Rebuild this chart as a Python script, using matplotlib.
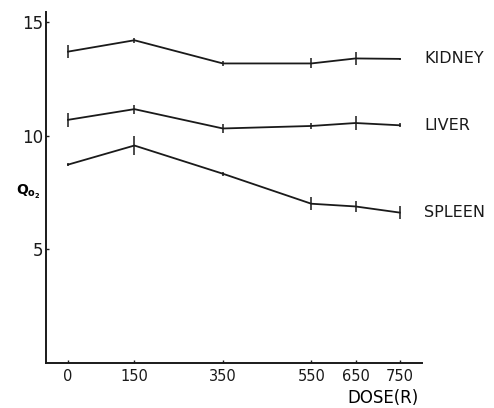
import matplotlib.pyplot as plt
import numpy as np

# Dose (R) and Qo2 per tissue
dose = [0, 150, 350, 550, 650, 750]

kidney = [13.7, 14.2, 13.18, 13.18, 13.4, 13.38]
liver = [10.7, 11.17, 10.32, 10.43, 10.56, 10.46]
spleen = [8.73, 9.57, 8.33, 7.01, 6.89, 6.62]

kidney_err = [0.28, 0.12, 0.12, 0.22, 0.3, 0.05]
liver_err = [0.3, 0.2, 0.2, 0.12, 0.32, 0.08]
spleen_err = [0.08, 0.4, 0.08, 0.28, 0.25, 0.28]

tissues = ["KIDNEY", "LIVER", "SPLEEN"]

fig = plt.figure(figsize=(4.94, 4.08), dpi=100)
ax = fig.add_axes([0.093, 0.110, 0.761, 0.861])

for y, err, name in zip([kidney, liver, spleen],
                        [kidney_err, liver_err, spleen_err], tissues):
    ax.errorbar(dose, y, yerr=err, color='#1a1a1a', lw=1.3,
                elinewidth=1.1, capsize=0)
    ax.text(805, y[-1], name, fontsize=11.5, va='center', ha='left',
            color='#1a1a1a', clip_on=False)

ax.set_xlim(-50, 800)
ax.set_ylim(0, 15.45)
ax.set_xticks(dose)
ax.set_yticks([5, 10, 15])
ax.tick_params(direction='in', length=2, width=1, labelsize=10.5,
               colors='#1a1a1a')
ax.tick_params(axis='x', pad=4)
ax.tick_params(axis='y', pad=2, labelsize=12)

for side in ['top', 'right']:
    ax.spines[side].set_visible(False)
for side in ['left', 'bottom']:
    ax.spines[side].set_linewidth(1.4)
    ax.spines[side].set_color('#1a1a1a')

ax.text(-0.015, 0.487, r'$\mathbf{Q_{o_2}}$', transform=ax.transAxes,
        fontsize=10, ha='right', va='center')
ax.text(792, -1.55, 'DOSE(R)', fontsize=12, ha='right', va='center',
        clip_on=False)

fig.savefig('out.png', dpi=100)
